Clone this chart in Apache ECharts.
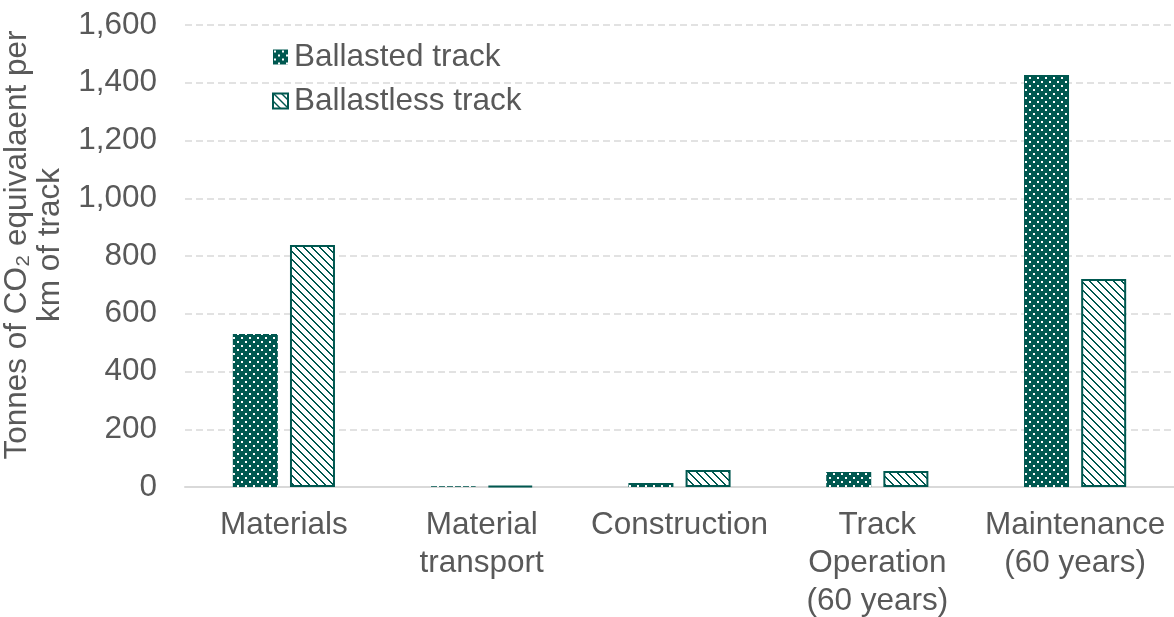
<!DOCTYPE html>
<html>
<head>
<meta charset="utf-8">
<script src="https://cdn.jsdelivr.net/npm/echarts@6/dist/echarts.min.js"></script>
<style>
  html, body { margin: 0; padding: 0; background: #fff; }
  #chart { width: 1174px; height: 617px; }
</style>
</head>
<body>
<div id="chart"></div>
<script>
// data
const categories = ["Materials", "Material\ntransport", "Construction", "Track\nOperation\n(60 years)", "Maintenance\n(60 years)"];
const ballasted = [530, 3, 14, 52, 1427];
const ballastless = [838, 4, 59, 55, 720];
const seriesNames = ["Ballasted track", "Ballastless track"];

const TEAL = "#005850";
const GREY = "#595959";
const FS = 31.5;

// dotted fill: teal with small white dots
function dotPattern() {
  const c = document.createElement("canvas");
  c.width = 8; c.height = 8;
  const g = c.getContext("2d");
  g.fillStyle = TEAL;
  g.fillRect(0, 0, 8, 8);
  g.fillStyle = "#ffffff";
  g.fillRect(1, 1, 2, 2);
  g.fillRect(5, 5, 2, 2);
  return c;
}

// diagonal stripes "\" on white
function stripePattern() {
  const c = document.createElement("canvas");
  c.width = 8; c.height = 8;
  const g = c.getContext("2d");
  g.fillStyle = "#ffffff";
  g.fillRect(0, 0, 8, 8);
  g.fillStyle = TEAL;
  for (let y = 0; y < 8; y++) {
    for (let x = 0; x < 8; x++) {
      const d = ((x - y) % 8 + 8) % 8;
      if (d === 0 || d === 1) g.fillRect(x, y, 1, 1);
    }
  }
  return c;
}

const chart = echarts.init(document.getElementById("chart"));

chart.setOption({
  animation: false,
  textStyle: { fontFamily: "Liberation Sans, Arial, sans-serif" },
  legend: {
    orient: "vertical",
    left: 267,
    top: 36,
    icon: "rect",
    itemWidth: 15,
    itemHeight: 15,
    itemGap: 12,
    textStyle: { fontSize: FS, color: GREY, padding: [0, 0, 0, 1] },
    data: seriesNames
  },
  grid: { left: 185, right: 0, top: 25, bottom: 130, outerBoundsMode: "none", containLabel: false },
  xAxis: {
    type: "category",
    data: categories,
    axisTick: { show: false },
    axisLine: { lineStyle: { color: "#d9d9d9", width: 2 } },
    axisLabel: { fontSize: FS, color: GREY, lineHeight: 38, margin: 19, interval: 0 }
  },
  yAxis: {
    type: "value",
    min: 0,
    max: 1600,
    interval: 200,
    name: "Tonnes of CO\u2082 equivalaent per\nkm of track",
    nameLocation: "middle",
    nameGap: 106,
    nameTextStyle: { fontSize: FS, color: GREY, lineHeight: 33, padding: [0, 0, 0, 22] },
    axisLabel: {
      fontSize: FS,
      color: GREY,
      margin: 28,
      formatter: v => v.toLocaleString("en-US")
    },
    splitLine: { lineStyle: { color: "#d9d9d9", type: [7, 4], width: 1.5 } }
  },
  series: [
    {
      name: seriesNames[0],
      type: "bar",
      data: ballasted,
      barWidth: 45,
      barGap: "27%",
      itemStyle: { color: { image: dotPattern(), repeat: "repeat" } }
    },
    {
      name: seriesNames[1],
      type: "bar",
      data: ballastless,
      barWidth: 45,
      itemStyle: {
        color: { image: stripePattern(), repeat: "repeat" },
        borderColor: TEAL,
        borderWidth: 2
      }
    }
  ]
});
</script>
</body>
</html>
